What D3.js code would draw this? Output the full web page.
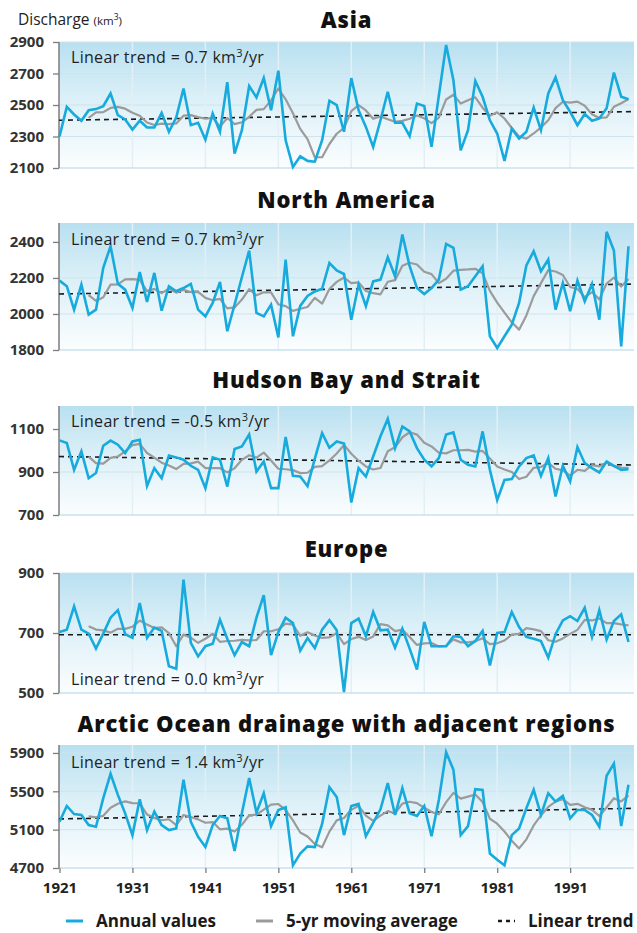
<!DOCTYPE html>
<html>
<head>
<meta charset="utf-8">
<script src="https://cdn.jsdelivr.net/npm/d3@7"></script>
<style>
  body { margin: 0; background: #fff; }
  svg { display: block; font-family: "Open Sans", Lato, sans-serif; }
</style>
</head>
<body>
<svg id="chart" width="637" height="933"></svg>
<script>
// Annual river discharge (km³), one value per year 1921–1999
const firstYear = 1921;
const lastYear = 1999;

const asia = [
  2300, 2488, 2440, 2400, 2467, 2474, 2493, 2573, 2435, 2408,
  2344, 2400, 2357, 2357, 2450, 2330, 2420, 2605, 2372, 2387,
  2280, 2446, 2330, 2645, 2191, 2340, 2620, 2548, 2671, 2467,
  2718, 2276, 2106, 2174, 2145, 2140, 2276, 2527, 2499, 2330,
  2671, 2467, 2361, 2234, 2403, 2584, 2387, 2387, 2302, 2509,
  2493, 2234, 2559, 2881, 2658, 2212, 2340, 2652, 2552, 2403,
  2319, 2145, 2350, 2287, 2330, 2484, 2340, 2573, 2675, 2531,
  2457, 2372, 2443, 2400, 2415, 2480, 2706, 2553, 2536
];
const northAmerica = [
  2185, 2154, 2024, 2163, 1996, 2024, 2256, 2376, 2167, 2135,
  2033, 2233, 2067, 2228, 2018, 2154, 2126, 2144, 2167, 2024,
  1987, 2061, 2178, 1904, 2052, 2204, 2352, 2006, 1987, 2052,
  1870, 2302, 1876, 2045, 2100, 2125, 2140, 2283, 2242, 2222,
  1968, 2163, 2043, 2181, 2191, 2315, 2209, 2441, 2265, 2144,
  2111, 2144, 2191, 2389, 2367, 2135, 2154, 2209, 2265, 1876,
  1811, 1876, 1941, 2061, 2269, 2348, 2237, 2302, 2024, 2172,
  2015, 2185, 2070, 2167, 1968, 2456, 2352, 1820, 2376
];
const hudsonBay = [
  1047, 1035, 910, 996, 871, 895, 1022, 1046, 1027, 988,
  1042, 1050, 835, 918, 871, 976, 968, 957, 929, 910,
  825, 968, 957, 832, 1007, 1019, 1074, 902, 949, 825,
  825, 1063, 882, 879, 834, 962, 1081, 1013, 1042, 1032,
  758, 918, 879, 972, 1066, 1147, 1011, 1112, 1089, 1011,
  957, 926, 965, 1074, 1084, 957, 934, 926, 1089, 910,
  770, 863, 867, 926, 965, 977, 882, 965, 786, 929,
  856, 1016, 941, 918, 898, 949, 929, 910, 913
];
const europe = [
  703, 711, 789, 711, 698, 648, 698, 751, 776, 696,
  684, 800, 684, 718, 707, 589, 581, 878, 667, 622,
  656, 664, 744, 681, 626, 670, 656, 751, 826, 626,
  703, 751, 733, 641, 683, 650, 711, 743, 709, 503,
  733, 748, 689, 770, 709, 711, 651, 714, 648, 578,
  737, 656, 656, 656, 689, 687, 656, 673, 707, 592,
  700, 703, 770, 720, 687, 681, 673, 618, 696, 742,
  756, 740, 784, 687, 776, 678, 740, 762, 670
];
const arcticOcean = [
  5183, 5347, 5263, 5253, 5148, 5130, 5428, 5683, 5463, 5270,
  5043, 5417, 5095, 5288, 5148, 5095, 5113, 5620, 5183, 5025,
  4920, 5148, 5242, 5218, 4878, 5270, 5638, 5277, 5480, 5137,
  5305, 5333, 4728, 4850, 4925, 4918, 5160, 5543, 5440, 5043,
  5347, 5368, 5032, 5172, 5312, 5585, 5253, 5533, 5270, 5242,
  5347, 5032, 5410, 5907, 5725, 5043, 5137, 5522, 5515, 4850,
  4787, 4728, 5043, 5113, 5323, 5515, 5253, 5480, 5393, 5452,
  5218, 5305, 5305, 5253, 5130, 5662, 5788, 5137, 5568
];

// Linear trend: slope (km³/yr) and fitted value in the first year
const trendSlopes = [0.7, 0.7, -0.5, 0.0, 1.4];
const trendStarts = [2403, 2111, 972, 694, 5212];

const regionNames = ["Asia", "North America", "Hudson Bay and Strait", "Europe",
  "Arctic Ocean drainage with adjacent regions"];

const yTicksAsia = [2100, 2300, 2500, 2700, 2900];
const yTicksNorthAmerica = [1800, 2000, 2200, 2400];
const yTicksHudson = [700, 900, 1100];
const yTicksEurope = [500, 700, 900];
const yTicksArctic = [4700, 5100, 5500, 5900];
const yearTicks = [1921, 1931, 1941, 1951, 1961, 1971, 1981, 1991];

const legendLabels = ["Annual values", "5-yr moving average", "Linear trend"];

// ---- layout ----
const years = d3.range(firstYear, lastYear + 1);
const plotLeft = 59, plotRight = 634;
const x = d3.scaleLinear().domain([firstYear, lastYear]).range([59.5, 628.5]);

const panels = [
  { values: asia, ticks: yTicksAsia, domain: [2100, 2900], top: 42, bottom: 168, titleY: 28, labelY: 63 },
  { values: northAmerica, ticks: yTicksNorthAmerica, domain: [1800, 2505], top: 223, bottom: 350, titleY: 208, labelY: 245 },
  { values: hudsonBay, ticks: yTicksHudson, domain: [700, 1207], top: 406, bottom: 515, titleY: 388, labelY: 427 },
  { values: europe, ticks: yTicksEurope, domain: [500, 900], top: 573, bottom: 693, titleY: 557, labelY: 685 },
  { values: arcticOcean, ticks: yTicksArctic, domain: [4700, 5983], top: 745, bottom: 868, titleY: 732, labelY: 768 }
];
panels.forEach((p, i) => {
  p.title = regionNames[i];
  p.slope = trendSlopes[i];
  p.start = trendStarts[i];
});

const svg = d3.select("#chart");
const defs = svg.append("defs");
const grad = defs.append("linearGradient").attr("id", "plotBg")
  .attr("x1", 0).attr("y1", 0).attr("x2", 0).attr("y2", 1);
grad.append("stop").attr("offset", "0%").attr("stop-color", "#b9e0f0");
grad.append("stop").attr("offset", "45%").attr("stop-color", "#dcf0f8");
grad.append("stop").attr("offset", "100%").attr("stop-color", "#fbfdfe");

const blue = "#17aadd", grey = "#9b9b9b", ink = "#1a1a1a";

// y-axis caption
const cap = svg.append("text").attr("x", 18).attr("y", 25)
  .attr("font-size", 15.5).attr("fill", "#222");
cap.append("tspan").text("Discharge ");
cap.append("tspan").attr("font-size", 11.5).text("(km");
cap.append("tspan").attr("font-size", 8.5).attr("dy", -5).text("3");
cap.append("tspan").attr("font-size", 11.5).attr("dy", 5).text(")");

panels.forEach(p => {
  const y = d3.scaleLinear().domain(p.domain).range([p.bottom, p.top]);
  const g = svg.append("g");

  g.append("rect")
    .attr("x", plotLeft).attr("y", p.top)
    .attr("width", plotRight - plotLeft).attr("height", p.bottom - p.top)
    .attr("fill", "url(#plotBg)");

  // horizontal grid at value ticks
  g.selectAll(".hgrid").data(p.ticks.filter(t => t !== p.domain[0])).join("line")
    .attr("x1", plotLeft).attr("x2", plotRight)
    .attr("y1", d => y(d)).attr("y2", d => y(d))
    .attr("stroke", "#cfe3ec").attr("stroke-width", 1);

  // vertical grid at decades
  g.selectAll(".vgrid").data(yearTicks.slice(1)).join("line")
    .attr("x1", d => x(d)).attr("x2", d => x(d))
    .attr("y1", p.top).attr("y2", p.bottom)
    .attr("stroke", "#e2f0f6").attr("stroke-width", 1.5);

  // bottom edge of plot area
  g.append("line")
    .attr("x1", plotLeft).attr("x2", plotRight)
    .attr("y1", p.bottom).attr("y2", p.bottom)
    .attr("stroke", "#c7e2ee").attr("stroke-width", 1.5);

  // left axis
  const ax = g.append("g").attr("transform", `translate(${plotLeft},0)`)
    .call(d3.axisLeft(y).tickValues(p.ticks).tickFormat(d3.format("d"))
      .tickSize(6).tickSizeOuter(0).tickPadding(9));
  ax.select(".domain").attr("stroke", "#7d7d7d").attr("stroke-width", 1.5)
    .attr("d", `M0,${p.top}V${p.bottom}`);
  ax.selectAll(".tick line").attr("stroke", "#7d7d7d").attr("stroke-width", 1.3);
  ax.selectAll(".tick text").attr("font-size", 15).attr("font-weight", "bold")
    .attr("fill", "#333").attr("font-family", "'Open Sans', sans-serif");

  // trend line across the plot
  const trendYears = [x.invert(plotLeft), x.invert(plotRight)];
  g.append("path")
    .datum(trendYears)
    .attr("fill", "none").attr("stroke", ink).attr("stroke-width", 1.6)
    .attr("stroke-dasharray", "5,4")
    .attr("d", d3.line().x(d => x(d)).y(d => y(p.start + p.slope * (d - firstYear))));

  // 5-yr moving average (mean of the year and the four before it)
  const movingAvg = years.map((yr, i) => i < 4 ? null : d3.mean(p.values.slice(i - 4, i + 1)));
  g.append("path")
    .datum(years.map((yr, i) => [yr, movingAvg[i]]).filter(d => d[1] !== null))
    .attr("fill", "none").attr("stroke", grey).attr("stroke-width", 2.2)
    .attr("stroke-linejoin", "round")
    .attr("d", d3.line().x(d => x(d[0])).y(d => y(d[1])));

  // annual values
  g.append("path")
    .datum(years.map((yr, i) => [yr, p.values[i]]))
    .attr("fill", "none").attr("stroke", blue).attr("stroke-width", 2.6)
    .attr("stroke-linejoin", "miter")
    .attr("d", d3.line().x(d => x(d[0])).y(d => y(d[1])));

  // panel title
  svg.append("text").attr("x", (plotLeft + plotRight) / 2).attr("y", p.titleY)
    .attr("text-anchor", "middle").attr("font-size", 22).attr("font-weight", 800)
    .attr("letter-spacing", 0.8).attr("fill", "#111").text(p.title);

  // trend label
  const lbl = svg.append("text").attr("x", 71).attr("y", p.labelY)
    .attr("font-size", 16).attr("letter-spacing", 0.3).attr("fill", "#222");
  lbl.append("tspan").text(`Linear trend = ${p.slope.toFixed(1)} km`);
  lbl.append("tspan").attr("font-size", 11).attr("dy", -6).text("3");
  lbl.append("tspan").attr("dy", 6).text("/yr");

  // year axis under the last panel
  if (p === panels[panels.length - 1]) {
    const xa = svg.append("g").attr("transform", `translate(0,${p.bottom})`)
      .call(d3.axisBottom(x).tickValues(yearTicks).tickSize(5).tickSizeOuter(0)
        .tickFormat(d3.format("d")).tickPadding(9));
    xa.select(".domain").remove();
    xa.selectAll(".tick line").attr("stroke", "#7d7d7d").attr("stroke-width", 1.3);
    xa.selectAll(".tick text").attr("font-size", 15).attr("font-weight", "bold")
      .attr("fill", "#222").attr("font-family", "'Open Sans', sans-serif");
  }
});

// legend
const legend = svg.append("g").attr("transform", "translate(0,921)");
const legendItems = [
  { x: 66, label: legendLabels[0], stroke: blue, dash: null, w: 3 },
  { x: 256, label: legendLabels[1], stroke: grey, dash: null, w: 3 },
  { x: 498, label: legendLabels[2], stroke: ink, dash: "4,4", w: 2.5 }
];
legendItems.forEach(it => {
  legend.append("line").attr("x1", it.x).attr("x2", it.x + 17).attr("y1", 0).attr("y2", 0)
    .attr("stroke", it.stroke).attr("stroke-width", it.w)
    .attr("stroke-dasharray", it.dash);
  legend.append("text").attr("x", it.x + 30).attr("y", 6)
    .attr("font-size", 17).attr("font-weight", "bold").attr("fill", "#1a1a1a")
    .text(it.label);
});
</script>
</body>
</html>
